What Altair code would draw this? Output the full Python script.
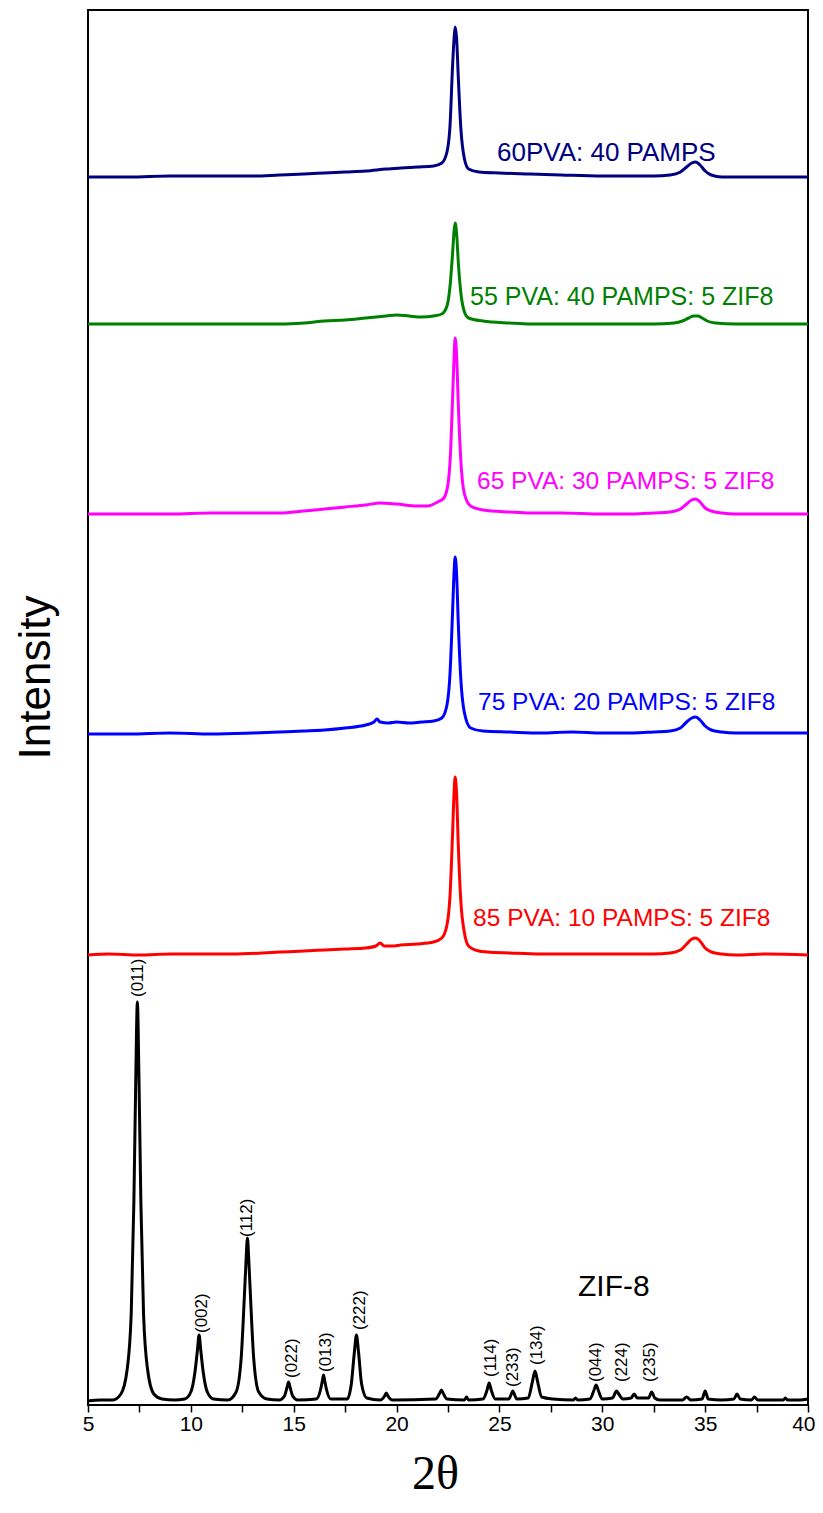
import altair as alt
import pandas as pd

# ---------------- data ----------------
# ZIF-8 (black) pattern: 2theta and intensity above its own baseline
zif_x = [5.0, 5.6, 6.2, 6.6, 6.9, 7.1, 7.23, 7.32, 7.4, 7.48, 7.57, 7.7, 7.9, 8.2, 8.6,
         9.2, 9.7, 10.0, 10.2, 10.32, 10.4, 10.48, 10.6, 10.8, 11.1, 11.8,
         12.2, 12.45, 12.6, 12.68, 12.75, 12.82, 12.9, 13.05, 13.3, 13.7,
         14.3, 14.55, 14.68, 14.75, 14.82, 14.95, 15.2, 16.1, 16.3, 16.4, 16.45, 16.5, 16.6, 16.8,
         17.6, 17.8, 17.95, 18.05, 18.15, 18.3, 18.55, 19.2, 19.42, 19.5, 19.58, 19.8,
         21.9, 22.1, 22.18, 22.26, 22.45, 23.3, 23.4, 23.5, 24.2, 24.4, 24.5, 24.6, 24.8,
         25.45, 25.6, 25.65, 25.7, 25.85, 26.4, 26.6, 26.73, 26.86, 27.05, 27.6,
         28.6, 28.7, 28.8, 29.4, 29.6, 29.7, 29.8, 30.0, 30.5, 30.65, 30.7, 30.8, 31.0,
         31.4, 31.55, 31.7, 32.25, 32.4, 32.55, 32.8, 33.9, 34.1, 34.3, 34.85, 35.0, 35.15,
         35.8, 36.4, 36.55, 36.7, 37.25, 37.4, 37.55, 38.3, 38.8, 38.9, 39.0, 39.6, 40.0]
zif_y = [1, 2, 2, 8, 32, 88, 200, 320, 400, 320, 200, 88, 32, 8, 3,
         2, 3, 10, 30, 52, 67, 52, 30, 10, 3, 2,
         10, 45, 105, 140, 164, 140, 105, 45, 10, 3,
         2, 6, 15, 20, 15, 6, 2, 3, 12, 22, 27, 22, 12, 3,
         3, 18, 50, 67, 50, 18, 4, 2, 6, 9, 6, 2,
         3, 9, 12, 9, 3, 2, 5, 2, 3, 12, 19, 12, 3,
         3, 9, 11, 9, 3, 4, 20, 31, 20, 5, 3,
         2, 4, 2, 3, 12, 17, 12, 3, 4, 10, 11, 8, 3,
         4, 8, 4, 4, 10, 4, 2, 2, 5, 2, 3, 11, 3,
         2, 3, 8, 3, 2, 5, 2, 2, 2, 4, 2, 2, 3]

# 85 PVA: 10 PAMPS: 5 ZIF8 (red)
red_x = [5.0, 6.0, 7.5, 9.0, 10.5, 12.0, 13.5, 14.3, 15.5, 16.5, 17.5, 18.5, 19.0, 19.2, 19.4,
         19.8, 20.2, 21.0, 21.8, 22.2, 22.45, 22.6, 22.72, 22.8, 22.85, 22.92, 23.0, 23.12,
         23.3, 23.5, 24.0, 24.4, 25.5, 27.0, 28.5, 30.0, 31.5, 32.5, 33.3, 33.8, 34.1, 34.35,
         34.55, 34.75, 35.0, 35.3, 35.8, 36.5, 38.0, 40.0]
red_y = [0, 1, 0, 1, 1, 1, 2, 3, 4, 5, 6, 7, 9, 12, 9,
         9, 10, 11, 13, 17, 30, 60, 120, 165, 178, 160, 110, 55,
         22, 9, 4, 3, 2, 1, 1, 1, 1, 1, 2, 5, 11, 16,
         17, 14, 7, 3, 1, 0, 1, 0]

# 75 PVA: 20 PAMPS: 5 ZIF8 (blue)
blue_x = [5.0, 7.0, 9.0, 11.0, 13.0, 14.3, 15.5, 16.5, 17.5, 18.5, 18.9, 19.05, 19.2, 19.6,
          20.0, 20.6, 21.2, 21.8, 22.2, 22.45, 22.6, 22.72, 22.8, 22.85, 22.92, 23.0, 23.12,
          23.3, 23.6, 24.2, 25.5, 27.0, 28.5, 30.0, 31.5, 32.5, 33.3, 33.8, 34.1, 34.35,
          34.55, 34.75, 35.0, 35.3, 35.8, 36.5, 38.0, 40.0]
blue_y = [-1, -1, 0, -1, 0, 1, 2, 3, 5, 8, 11, 14, 11, 10,
          11, 10, 11, 12, 15, 28, 60, 120, 163, 176, 158, 110, 55,
          20, 5, 2, 1, 0, 1, 0, 0, 1, 2, 5, 11, 15,
          16, 13, 7, 3, 1, 0, 0, 0]

# 65 PVA: 30 PAMPS: 5 ZIF8 (magenta)
mag_x = [5.0, 7.0, 9.0, 11.0, 13.0, 14.3, 15.5, 16.5, 17.5, 18.5, 19.2, 20.0, 21.0, 21.5,
         22.0, 22.3, 22.5, 22.62, 22.73, 22.8, 22.85, 22.92, 23.0, 23.12, 23.3, 23.6, 24.2,
         25.5, 26.5, 28.0, 30.0, 31.5, 32.5, 33.3, 33.8, 34.1, 34.35, 34.55, 34.75, 35.0,
         35.3, 35.8, 36.5, 38.0, 40.0]
mag_y = [0, 0, 0, 1, 1, 1, 3, 5, 7, 9, 11, 10, 8, 8,
         12, 16, 30, 60, 120, 160, 176, 158, 110, 55, 20, 8, 4,
         2, 1, 1, 0, 0, 1, 2, 5, 10, 14, 15, 12, 6,
         3, 1, 0, 0, 0]

# 55 PVA: 40 PAMPS: 5 ZIF8 (green)
grn_x = [5.0, 7.0, 9.0, 11.0, 13.0, 14.3, 15.5, 16.5, 17.5, 18.5, 19.5, 20.0, 20.6, 21.2,
         21.8, 22.2, 22.45, 22.6, 22.72, 22.8, 22.85, 22.92, 23.0, 23.12, 23.3, 23.5, 24.2,
         25.5, 26.5, 28.0, 30.0, 31.5, 32.5, 33.5, 33.9, 34.2, 34.45, 34.65, 34.85, 35.1,
         35.5, 36.5, 38.0, 40.0]
grn_y = [0, 0, 0, 0, 0, 0, 1, 3, 4, 6, 8, 9, 8, 7,
         8, 10, 18, 38, 70, 94, 101, 90, 62, 32, 12, 6, 3,
         1, 0, 0, 0, 0, 0, 1, 3, 6, 8, 8, 6, 3,
         1, 0, 0, 0]

# 60PVA: 40 PAMPS (navy)
navy_x = [5.0, 7.0, 9.0, 11.0, 13.0, 14.3, 15.5, 16.5, 17.5, 18.5, 19.5, 20.2, 21.0, 21.8,
          22.2, 22.45, 22.6, 22.72, 22.8, 22.85, 22.92, 23.0, 23.12, 23.3, 23.5, 24.0, 25.0,
          26.5, 28.0, 30.0, 31.5, 32.5, 33.3, 33.8, 34.1, 34.35, 34.55, 34.75, 35.0, 35.3,
          35.8, 36.5, 38.0, 40.0]
navy_y = [0, 0, 1, 1, 1, 2, 3, 4, 5, 6, 8, 9, 10, 11,
          14, 25, 52, 110, 140, 150, 138, 100, 50, 18, 8, 5, 4,
          3, 2, 1, 1, 1, 2, 5, 10, 14, 15, 12, 6, 2,
          0, 0, 0, 0]

series_names = ["ZIF-8", "85 PVA: 10 PAMPS: 5 ZIF8", "75 PVA: 20 PAMPS: 5 ZIF8",
                "65 PVA: 30 PAMPS: 5 ZIF8", "55 PVA: 40 PAMPS: 5 ZIF8", "60PVA: 40 PAMPS"]
series_x = [zif_x, red_x, blue_x, mag_x, grn_x, navy_x]
series_y = [zif_y, red_y, blue_y, mag_y, grn_y, navy_y]
series_offset = [3, 450, 672, 891, 1081, 1228]          # vertical stacking offsets
series_colors = ["#000000", "#FF0000", "#0000FF", "#FF00FF", "#008000", "#000080"]

# series labels (text, 2theta of left edge, intensity of baseline, font size)
label_text = ["ZIF-8", "85 PVA: 10 PAMPS: 5 ZIF8", "75 PVA: 20 PAMPS: 5 ZIF8",
              "65 PVA: 30 PAMPS: 5 ZIF8", "55 PVA: 40 PAMPS: 5 ZIF8", "60PVA: 40 PAMPS"]
label_x = [28.82, 23.72, 23.96, 23.91, 23.57, 24.88]
label_y = [109, 479, 695, 916, 1100, 1244]
label_size = [30, 24.5, 24.5, 24.5, 25, 26]

# Miller indices of ZIF-8 reflections
hkl_text = ["(011)", "(002)", "(112)", "(022)", "(013)", "(222)",
            "(114)", "(233)", "(134)", "(044)", "(224)", "(235)"]
hkl_x = [7.43, 10.54, 12.73, 14.92, 16.57, 18.22, 24.59, 25.66, 26.83, 29.70, 30.96, 32.32]
hkl_y = [405, 69, 165, 24, 30, 72, 25, 15, 37, 20, 20, 20]

x_ticks = [5, 7.5, 10, 12.5, 15, 17.5, 20, 22.5, 25, 27.5, 30, 32.5, 35, 37.5, 40]

# ---------------- tables ----------------
rows = []
for name, xs, ys, off in zip(series_names, series_x, series_y, series_offset):
    for i, (a, b) in enumerate(zip(xs, ys)):
        rows.append({"x": a, "y": b + off, "series": name, "order": i})
curves = pd.DataFrame(rows)

labels = pd.DataFrame({"text": label_text, "x": label_x, "y": label_y,
                       "size": label_size, "color": series_colors})
hkl = pd.DataFrame({"text": hkl_text, "x": hkl_x,
                    "y": [v + series_offset[0] for v in hkl_y]})

W, H = 720, 1395
xscale = alt.Scale(domain=[5, 40], nice=False, zero=False)
yscale = alt.Scale(domain=[0, H], nice=False, zero=False)

last_tick = "datum.value == 40"
xaxis = alt.Axis(values=x_ticks, labelExpr="datum.value % 5 == 0 ? datum.label : ''",
                 title="2θ", titleFont="Liberation Serif", titleFontSize=48,
                 titleFontWeight="normal", titleColor="black", titleX=347, titleY=83,
                 titleAlign="center", titleBaseline="alphabetic",
                 domain=False, grid=False, tickSize=7, tickColor="black", tickWidth=1.5,
                 labelFont="Liberation Sans", labelFontSize=21,
                 labelColor="black", labelPadding=1, labelFlush=False, labelOverlap=False,
                 labelAlign={"condition": {"test": last_tick, "value": "right"},
                             "value": "center"},
                 labelOffset={"condition": {"test": last_tick, "value": 7}, "value": 0})
yaxis = alt.Axis(title="Intensity", labels=False, ticks=False, domain=False, grid=False,
                 titleFont="Liberation Sans", titleFontSize=44, titleFontWeight="normal",
                 titleColor="black", titleAngle=270, titleX=-39, titleY=667,
                 titleAlign="center", titleBaseline="alphabetic")

lines = alt.Chart(curves).mark_line(strokeWidth=3, interpolate="monotone").encode(
    x=alt.X("x:Q", scale=xscale, axis=xaxis),
    y=alt.Y("y:Q", scale=yscale, axis=yaxis),
    color=alt.Color("series:N", scale=alt.Scale(domain=series_names, range=series_colors),
                    legend=None),
    detail="series:N",
    order="order:Q",
)

series_labels = alt.Chart(labels).mark_text(align="left", baseline="alphabetic",
                                            font="Liberation Sans").encode(
    x=alt.X("x:Q", scale=xscale),
    y=alt.Y("y:Q", scale=yscale),
    text="text:N",
    size=alt.Size("size:Q", scale=None),
    color=alt.Color("color:N", scale=None),
)

hkl_labels = alt.Chart(hkl).mark_text(angle=270, align="left", baseline="middle",
                                      font="Liberation Sans", fontSize=17,
                                      color="black").encode(
    x=alt.X("x:Q", scale=xscale),
    y=alt.Y("y:Q", scale=yscale),
    text="text:N",
)

chart = alt.layer(lines, series_labels, hkl_labels).properties(
    width=W, height=H,
    autosize=alt.AutoSizeParams(type="none"),
    padding={"left": 80, "top": 2, "right": 7, "bottom": 95},
    background="white",
).configure_view(stroke="black", strokeWidth=2)

chart.save("out.html", embed_options={"renderer": "svg", "actions": False})
